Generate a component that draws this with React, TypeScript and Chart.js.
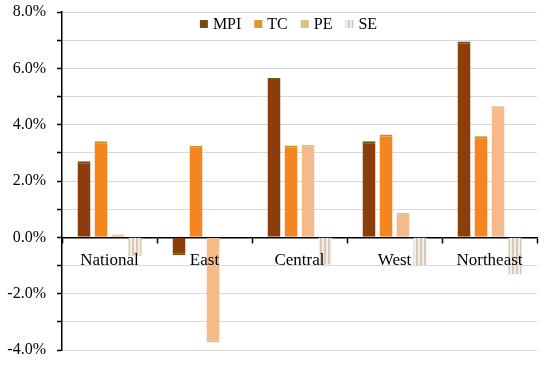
import React, { useEffect, useRef } from "react";
import { Chart, registerables } from "chart.js";

Chart.register(...registerables);

const categories = ["National", "East", "Central", "West", "Northeast"];
const seriesNames = ["MPI", "TC", "PE", "SE"];
const mpiValues = [2.7, -0.64, 5.66, 3.41, 6.95];
const tcValues = [3.41, 3.25, 3.26, 3.65, 3.59];
const peValues = [0.1, -3.73, 3.29, 0.87, 4.65];
const seValues = [-0.66, 0, -0.96, -1.0, -1.31];
const yTickMin = -4;
const yTickMax = 8;

const FONT = "'Liberation Serif', 'Times New Roman', serif";

function makeStripePattern(): CanvasPattern | string {
  const c = document.createElement("canvas");
  c.width = 4;
  c.height = 4;
  const ctx = c.getContext("2d");
  if (!ctx) return "#e6dccf";
  ctx.fillStyle = "#f3eee7";
  ctx.fillRect(0, 0, 4, 4);
  ctx.fillStyle = "#d6c9b6";
  ctx.fillRect(0, 0, 2, 4);
  const p = ctx.createPattern(c, "repeat");
  return p || "#e6dccf";
}

const customLegend = {
  id: "customLegend",
  afterDraw(chart: any) {
    const { ctx, chartArea } = chart;
    const datasets = chart.data.datasets;
    ctx.save();
    ctx.font = `16px ${FONT}`;
    ctx.textBaseline = "middle";
    const box = 8;
    const gap = 5;
    const spacing = 13;
    const widths = datasets.map((d: any) => box + gap + ctx.measureText(d.label).width);
    const total = widths.reduce((a: number, b: number) => a + b, 0) + spacing * (datasets.length - 1);
    let x = (chartArea.left + chartArea.right) / 2 - 11 - total / 2;
    const y = chartArea.top + 12;
    datasets.forEach((d: any, i: number) => {
      ctx.fillStyle = d.legendColor || d.backgroundColor;
      ctx.fillRect(x, y - box / 2, box, box);
      ctx.fillStyle = "#000";
      ctx.fillText(d.label, x + box + gap, y + 1);
      x += widths[i] + spacing;
    });
    ctx.restore();
  },
};

export default function App() {
  const ref = useRef<HTMLCanvasElement | null>(null);

  useEffect(() => {
    document.body.style.margin = "0";
    if (!ref.current) return;
    const stripe = makeStripePattern();
    const barBorder = { top: 2, bottom: 2, left: 0, right: 0 };
    const chart = new Chart(ref.current, {
      type: "bar",
      data: {
        labels: categories,
        datasets: [
          {
            label: seriesNames[0],
            data: mpiValues,
            backgroundColor: "#8c3d0c",
            borderColor: "#6b5414",
            legendColor: "#7a4a12",
            borderWidth: barBorder,
          } as any,
          {
            label: seriesNames[1],
            data: tcValues,
            backgroundColor: "#f5861f",
            borderColor: "#c4951e",
            legendColor: "#e0952a",
            borderWidth: barBorder,
          },
          {
            label: seriesNames[2],
            data: peValues,
            backgroundColor: "#f6b98a",
            borderColor: "#dcc183",
            legendColor: "#dcc080",
            borderWidth: barBorder,
          },
          {
            label: seriesNames[3],
            data: seValues,
            backgroundColor: stripe,
            borderWidth: 0,
          },
        ],
      },
      options: {
        responsive: false,
        animation: false,
        maintainAspectRatio: false,
        layout: { padding: { top: 12, bottom: 15, right: 13, left: 0 } },
        datasets: {
          bar: { categoryPercentage: 0.716, barPercentage: 0.765 },
        },
        plugins: {
          legend: { display: false },
          tooltip: { enabled: false },
        },
        scales: {
          x: {
            type: "category",
            position: { y: 0 } as any,
            offset: true,
            grid: {
              offset: true,
              drawOnChartArea: false,
              drawTicks: true,
              tickLength: 5,
              tickColor: "#000",
              tickWidth: 1.5,
            },
            border: { color: "#000", width: 1.5 },
            ticks: {
              z: 1,
              color: "#000",
              font: { family: FONT, size: 17 },
              padding: 8,
              maxRotation: 0,
              autoSkip: false,
            },
          },
          y: {
            min: yTickMin,
            max: yTickMax,
            afterFit(scale: any) {
              scale.width = 62;
              scale.paddingTop = 0;
              scale.paddingBottom = 0;
            },
            grid: {
              color: "#d9d9d9",
              tickColor: "#000",
              tickLength: 5,
              tickWidth: 1.5,
              lineWidth: 1,
            },
            border: { color: "#000", width: 1.5 },
            ticks: {
              stepSize: 1,
              color: "#000",
              padding: 11,
              font: { family: FONT, size: 16 },
              callback: (v: any) => (Number(v) % 2 === 0 ? Number(v).toFixed(1) + "%" : ""),
            },
          },
        },
      },
      plugins: [customLegend],
    });
    return () => chart.destroy();
  }, []);

  return (
    <div style={{ position: "fixed", left: 0, top: 0, width: 550, height: 365 }}>
      <canvas ref={ref} width={550} height={365} style={{ width: 550, height: 365, display: "block" }} />
    </div>
  );
}
